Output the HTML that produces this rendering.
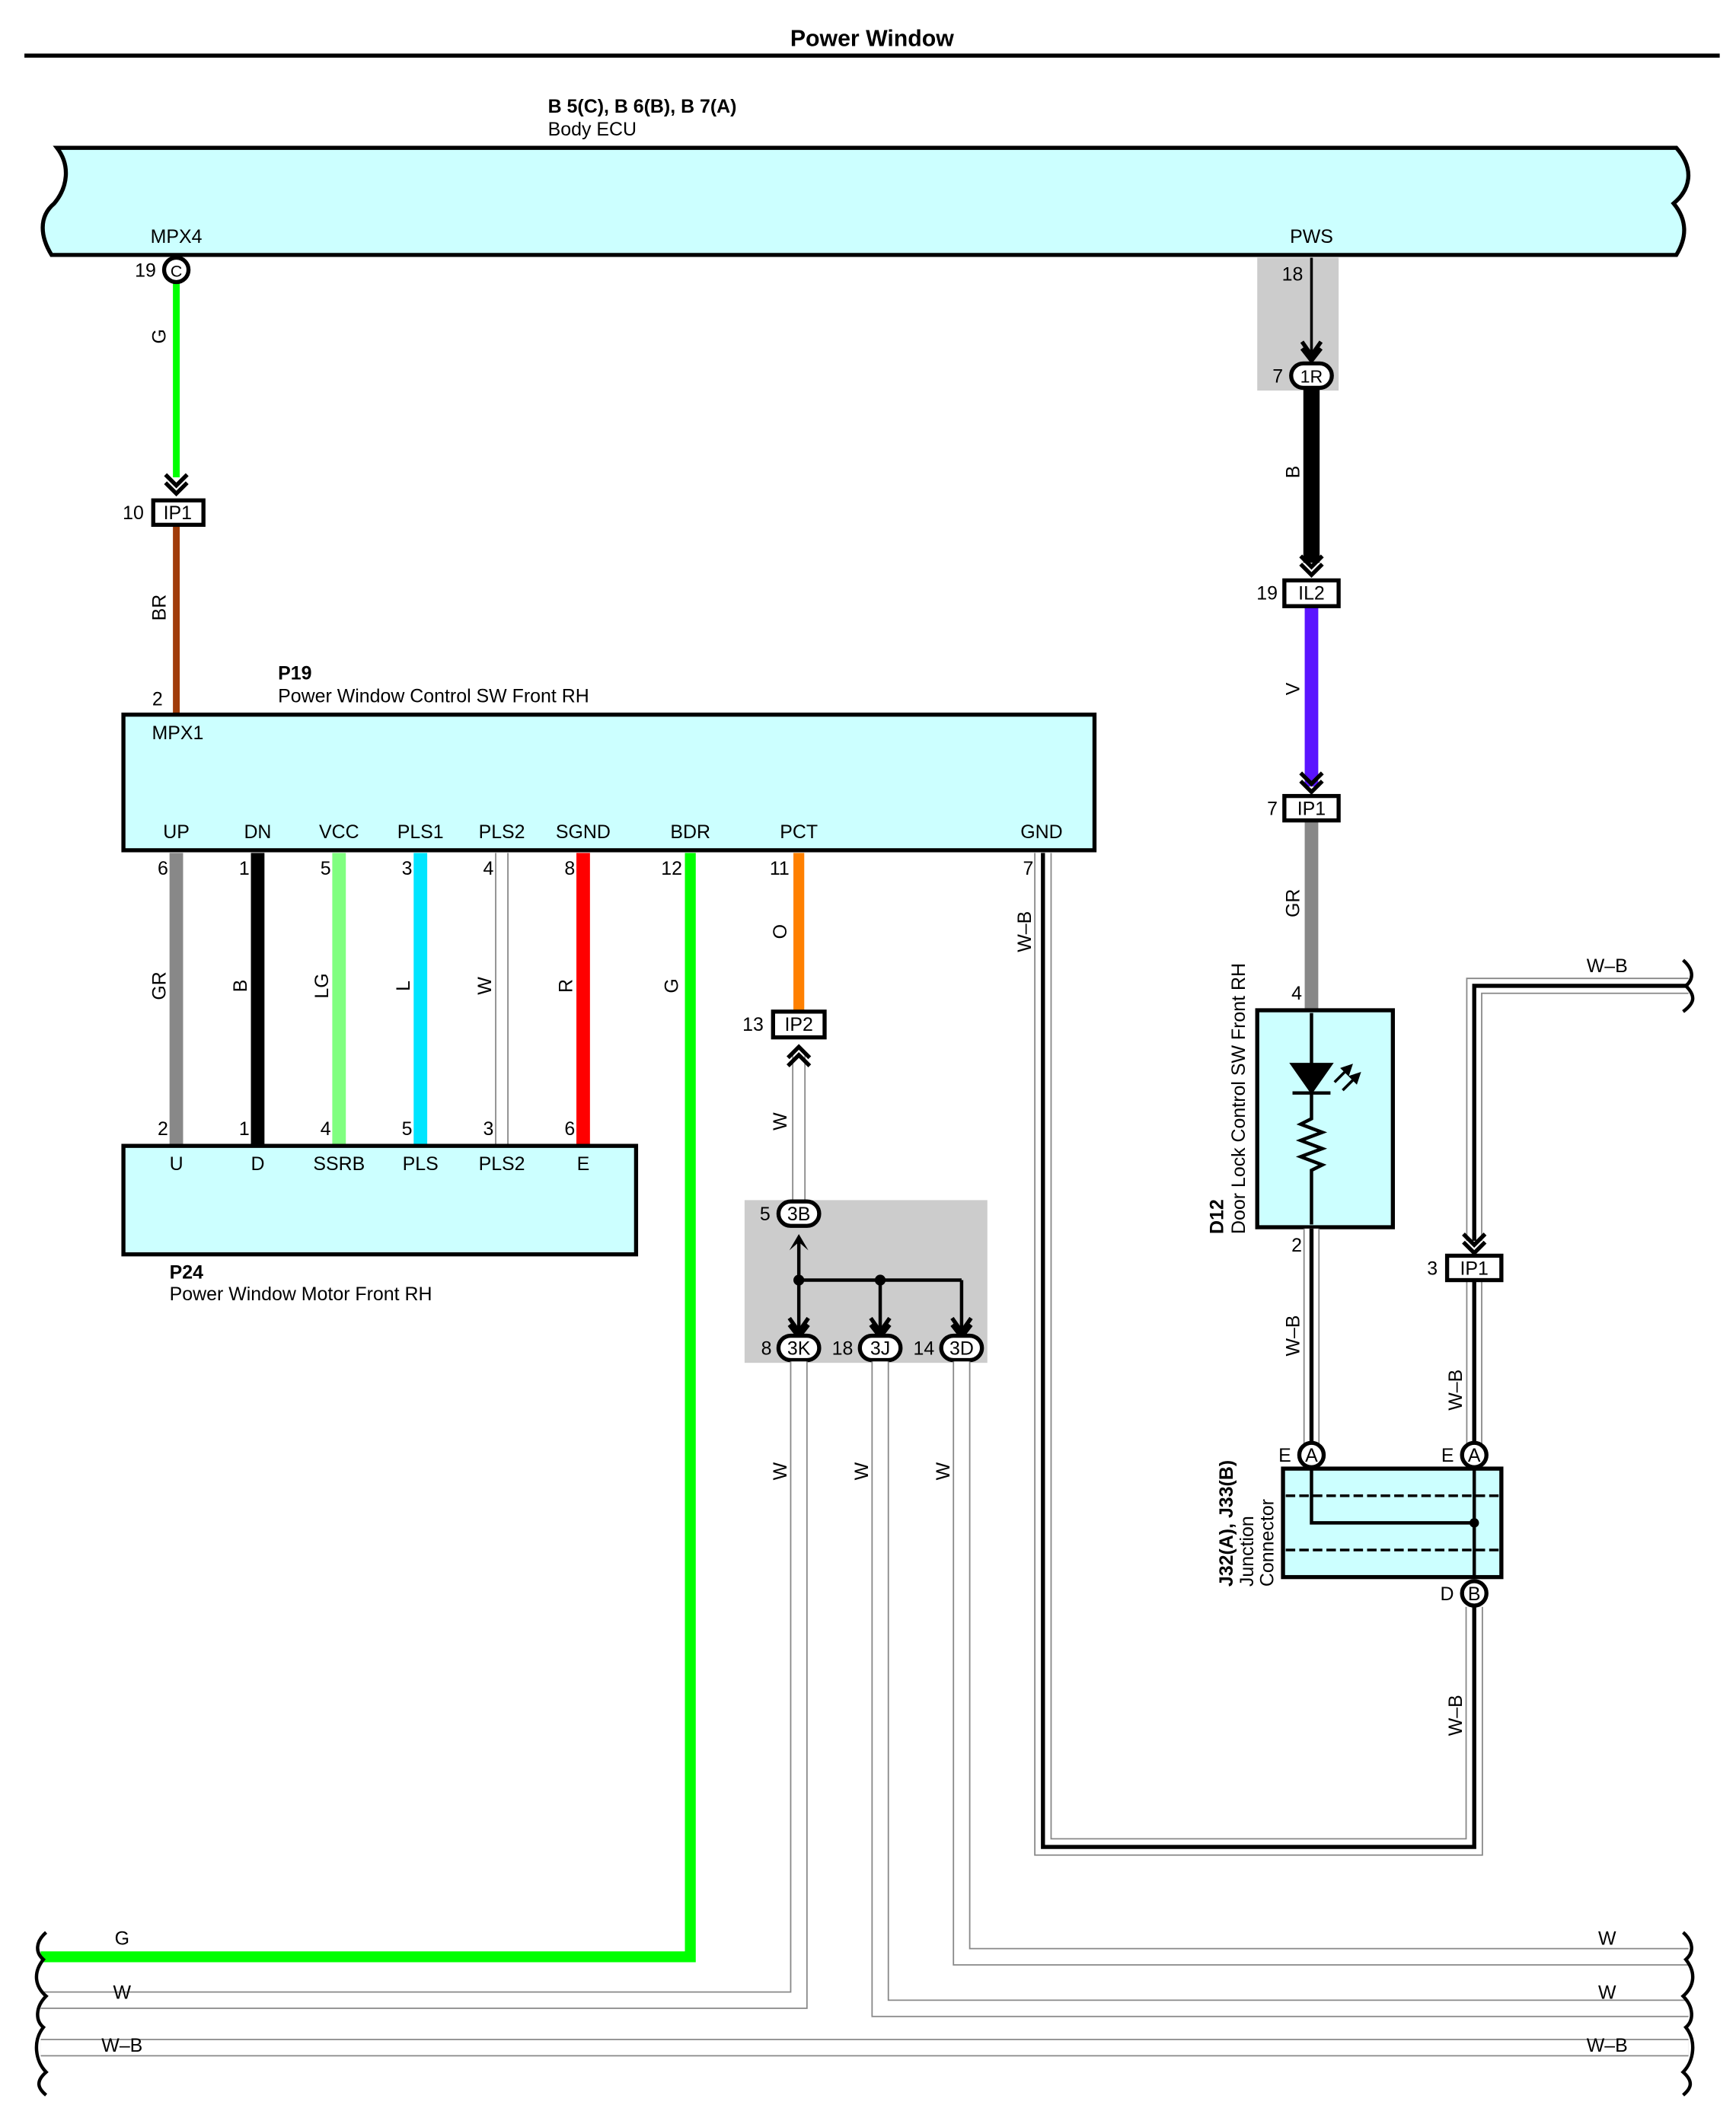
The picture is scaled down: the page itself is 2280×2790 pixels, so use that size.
<!DOCTYPE html>
<html><head><meta charset="utf-8"><style>html,body{margin:0;padding:0;background:#fff}svg{display:block}text{font-family:"Liberation Sans",sans-serif;font-size:14px;fill:#000}.b{font-weight:bold}</style></head>
<body>
<svg width="2280" height="2790" viewBox="0 0 1280 1566.3" xmlns="http://www.w3.org/2000/svg">
<defs>
<g id="chev"><path d="M-8,-10 L0,-2 L8,-10 M-8,-4 L0,4 L8,-4" fill="none" stroke="#000" stroke-width="3"/></g>
<g id="chevu"><path d="M-8,10 L0,2 L8,10 M-8,4 L0,-4 L8,4" fill="none" stroke="#000" stroke-width="3"/></g>
</defs>
<text x="643" y="34" text-anchor="middle" class="b" style="font-size:17px">Power Window</text>
<line x1="18" y1="41" x2="1268" y2="41" stroke="#000" stroke-width="3"/>
<text x="404" y="83" class="b">B 5(C), B 6(B), B 7(A)</text>
<text x="404" y="100">Body ECU</text>
<path d="M42,109 L1236,109 C1250,125 1246,140 1234,150 C1244,162 1244,175 1236,188 L38,188 C30,175 28,160 40,150 C50,138 52,122 42,109 Z" fill="#ccffff" stroke="#000" stroke-width="3"/>
<text x="130" y="179" text-anchor="middle">MPX4</text>
<text x="967" y="179" text-anchor="middle">PWS</text>
<!-- left G wire -->
<line x1="130" y1="208" x2="130" y2="352" stroke="#00ff00" stroke-width="5"/>
<circle cx="130" cy="199" r="9" fill="#fff" stroke="#000" stroke-width="3"/>
<text x="130" y="204" text-anchor="middle" style="font-size:12px">C</text>
<text x="115" y="204" text-anchor="end">19</text>
<text transform="translate(122,248) rotate(-90)" text-anchor="middle">G</text>
<use href="#chev" x="130" y="360"/>
<line x1="130" y1="386" x2="130" y2="527" stroke="#a03c0a" stroke-width="5"/>
<rect x="113" y="369" width="37" height="18" fill="#fff" stroke="#000" stroke-width="3"/>
<text x="131" y="383" text-anchor="middle">IP1</text>
<text x="106" y="383" text-anchor="end">10</text>
<text transform="translate(122,448) rotate(-90)" text-anchor="middle">BR</text>
<text x="120" y="520" text-anchor="end">2</text>
<text x="205" y="501" class="b">P19</text>
<text x="205" y="518">Power Window Control SW Front RH</text>
<!-- P19 box -->
<rect x="91" y="527" width="716" height="100" fill="#ccffff" stroke="#000" stroke-width="3"/>
<text x="112" y="545">MPX1</text>
<g text-anchor="middle">
<text x="130" y="618">UP</text><text x="190" y="618">DN</text><text x="250" y="618">VCC</text><text x="310" y="618">PLS1</text><text x="370" y="618">PLS2</text><text x="430" y="618">SGND</text><text x="509" y="618">BDR</text><text x="589" y="618">PCT</text><text x="768" y="618">GND</text>
</g>
<!-- wires between P19 and P24 -->
<line x1="130" y1="629" x2="130" y2="845" stroke="#888" stroke-width="10"/>
<line x1="190" y1="629" x2="190" y2="845" stroke="#000" stroke-width="10"/>
<line x1="250" y1="629" x2="250" y2="845" stroke="#80ff80" stroke-width="10"/>
<line x1="310" y1="629" x2="310" y2="845" stroke="#00e5ff" stroke-width="10"/>
<line x1="370" y1="629" x2="370" y2="845" stroke="#888" stroke-width="10"/>
<line x1="370" y1="629" x2="370" y2="845" stroke="#fff" stroke-width="8"/>
<line x1="430" y1="629" x2="430" y2="845" stroke="#ff0000" stroke-width="10"/>
<g text-anchor="end">
<text x="124" y="645">6</text><text x="184" y="645">1</text><text x="244" y="645">5</text><text x="304" y="645">3</text><text x="364" y="645">4</text><text x="424" y="645">8</text><text x="503" y="645">12</text><text x="582" y="645">11</text><text x="762" y="645">7</text>
<text x="124" y="837">2</text><text x="184" y="837">1</text><text x="244" y="837">4</text><text x="304" y="837">5</text><text x="364" y="837">3</text><text x="424" y="837">6</text>
</g>
<g text-anchor="middle">
<text transform="translate(122,727) rotate(-90)">GR</text>
<text transform="translate(182,727) rotate(-90)">B</text>
<text transform="translate(242,727) rotate(-90)">LG</text>
<text transform="translate(302,727) rotate(-90)">L</text>
<text transform="translate(362,727) rotate(-90)">W</text>
<text transform="translate(422,727) rotate(-90)">R</text>
<text transform="translate(500,727) rotate(-90)">G</text>
<text transform="translate(580,687) rotate(-90)">O</text>
<text transform="translate(580,827) rotate(-90)">W</text>
<text transform="translate(760,687) rotate(-90)">W–B</text>
</g>
<rect x="91" y="845" width="378" height="80" fill="#ccffff" stroke="#000" stroke-width="3"/>
<g text-anchor="middle">
<text x="130" y="863">U</text><text x="190" y="863">D</text><text x="250" y="863">SSRB</text><text x="310" y="863">PLS</text><text x="370" y="863">PLS2</text><text x="430" y="863">E</text>
</g>
<text x="125" y="943" class="b">P24</text>
<text x="125" y="959">Power Window Motor Front RH</text>
<!-- BDR green -->
<path d="M509,629 L509,1443 L30,1443" fill="none" stroke="#00ff00" stroke-width="8"/>
<!-- PCT orange -->
<line x1="589" y1="629" x2="589" y2="746" stroke="#ff8000" stroke-width="8"/>
<rect x="570" y="746" width="38" height="19" fill="#fff" stroke="#000" stroke-width="3"/>
<text x="589" y="760" text-anchor="middle">IP2</text>
<text x="563" y="760" text-anchor="end">13</text>
<line x1="589" y1="778" x2="589" y2="885" stroke="#888" stroke-width="10"/>
<line x1="589" y1="778" x2="589" y2="885" stroke="#fff" stroke-width="8"/>
<use href="#chevu" x="589" y="776"/>
<!-- junction gray box -->
<rect x="549" y="885" width="179" height="120" fill="#cccccc"/>
<path d="M589,915 L589,990 M589,944 L709,944 M649,944 L649,990 M709,944 L709,990" stroke="#000" stroke-width="2.5" fill="none"/>
<circle cx="589" cy="944" r="4"/><circle cx="649" cy="944" r="4"/>
<path d="M582,922 L589,910 L596,922 L589,916 Z" fill="#000"/>
<path d="M582,972 L589,982 L596,972 M582,977 L589,986 L596,977" stroke="#000" stroke-width="3" fill="none"/>
<path d="M642,972 L649,982 L656,972 M642,977 L649,986 L656,977" stroke="#000" stroke-width="3" fill="none"/>
<path d="M702,972 L709,982 L716,972 M702,977 L709,986 L716,977" stroke="#000" stroke-width="3" fill="none"/>
<g stroke="#000" stroke-width="3" fill="#fff">
<rect x="574" y="886" width="30" height="18" rx="9"/>
<rect x="574" y="985" width="30" height="18" rx="9"/>
<rect x="634" y="985" width="30" height="18" rx="9"/>
<rect x="694" y="985" width="30" height="18" rx="9"/>
</g>
<g text-anchor="middle" style="font-size:13px">
<text x="589" y="900">3B</text><text x="589" y="999">3K</text><text x="649" y="999">3J</text><text x="709" y="999">3D</text>
</g>
<g text-anchor="end"><text x="568" y="900">5</text><text x="569" y="999">8</text><text x="629" y="999">18</text><text x="689" y="999">14</text></g>
<!-- W wires to bottom -->
<g fill="none" stroke="#888" stroke-width="13">
<path d="M589,1004 L589,1475 L30,1475"/>
<path d="M649,1004 L649,1481 L1245,1481"/>
<path d="M709,1004 L709,1443 L1245,1443"/>
<path d="M30,1510 L1245,1510"/>
<path d="M769,629 L769,1362 L1087,1362 L1087,1185"/>
</g>
<g fill="none" stroke="#fff" stroke-width="11">
<path d="M589,1004 L589,1475 L30,1475"/>
<path d="M649,1004 L649,1481 L1245,1481"/>
<path d="M709,1004 L709,1443 L1245,1443"/>
<path d="M30,1510 L1245,1510"/>
<path d="M769,629 L769,1362 L1087,1362 L1087,1185"/>
</g>
<path d="M769,629 L769,1362 L1087,1362 L1087,1185" fill="none" stroke="#000" stroke-width="3"/>
<g text-anchor="middle">
<text transform="translate(580,1085) rotate(-90)">W</text>
<text transform="translate(640,1085) rotate(-90)">W</text>
<text transform="translate(700,1085) rotate(-90)">W</text>
</g>
<text x="90" y="1434" text-anchor="middle">G</text>
<text x="90" y="1474" text-anchor="middle">W</text>
<text x="90" y="1513" text-anchor="middle">W–B</text>
<text x="1185" y="1434" text-anchor="middle">W</text>
<text x="1185" y="1474" text-anchor="middle">W</text>
<text x="1185" y="1513" text-anchor="middle">W–B</text>
<!-- bottom squiggles -->
<path d="M34,1425 C26,1432 26,1440 32,1445 C24,1455 26,1465 34,1472 C26,1480 26,1490 32,1495 C24,1505 26,1520 34,1528 C26,1535 28,1540 34,1545" fill="none" stroke="#000" stroke-width="2.5"/>
<path d="M1241,1425 C1249,1432 1249,1440 1243,1445 C1251,1455 1249,1465 1241,1472 C1249,1480 1249,1490 1243,1495 C1251,1505 1249,1520 1241,1528 C1249,1535 1247,1540 1241,1545" fill="none" stroke="#000" stroke-width="2.5"/>
<!-- PWS section -->
<rect x="927" y="190" width="60" height="98" fill="#cccccc"/>
<text x="953" y="207" text-anchor="middle">18</text>
<line x1="967" y1="190" x2="967" y2="262" stroke="#000" stroke-width="2"/>
<path d="M960,252 L967,262 L974,252 M960,257 L967,266 L974,257" stroke="#000" stroke-width="3" fill="none"/>
<line x1="967" y1="286" x2="967" y2="415" stroke="#000" stroke-width="12"/>
<rect x="952" y="268" width="30" height="18" rx="9" fill="#fff" stroke="#000" stroke-width="3"/>
<text x="967" y="282" text-anchor="middle" style="font-size:13px">1R</text>
<text x="946" y="282" text-anchor="end">7</text>
<text transform="translate(958,348) rotate(-90)" text-anchor="middle">B</text>
<use href="#chev" x="967" y="420"/>
<line x1="967" y1="447" x2="967" y2="580" stroke="#5a14ff" stroke-width="10"/>
<rect x="947" y="428" width="40" height="19" fill="#fff" stroke="#000" stroke-width="3"/>
<text x="967" y="442" text-anchor="middle">IL2</text>
<text x="942" y="442" text-anchor="end">19</text>
<text transform="translate(958,508) rotate(-90)" text-anchor="middle">V</text>
<use href="#chev" x="967" y="580"/>
<line x1="967" y1="605" x2="967" y2="745" stroke="#888" stroke-width="10"/>
<rect x="947" y="587" width="40" height="18" fill="#fff" stroke="#000" stroke-width="3"/>
<text x="967" y="601" text-anchor="middle">IP1</text>
<text x="942" y="601" text-anchor="end">7</text>
<text transform="translate(958,666) rotate(-90)" text-anchor="middle">GR</text>
<text x="960" y="737" text-anchor="end">4</text>
<!-- D12 -->
<rect x="927" y="745" width="100" height="160" fill="#ccffff" stroke="#000" stroke-width="3"/>
<path d="M967,747 L967,785 M953,785 L981,785 L967,805 Z M953,806 L981,806 M967,806 L967,825 L959,829 L975,835 L959,841 L975,847 L959,853 L975,859 L967,863 L967,903" stroke="#000" stroke-width="2.5" fill="none"/>
<path d="M953,785 L981,785 L967,805 Z" fill="#000"/>
<path d="M984,798 L996,786 M990,804 L1002,792" stroke="#000" stroke-width="2"/>
<path d="M996,786 L990,788 L994,792 Z M1002,792 L996,794 L1000,798 Z" fill="#000" stroke="#000" stroke-width="2"/>
<text transform="translate(902,910) rotate(-90)" class="b">D12</text>
<text transform="translate(918,910) rotate(-90)">Door Lock Control SW Front RH</text>
<text x="960" y="923" text-anchor="end">2</text>
<!-- W-B wires right -->
<g fill="none" stroke="#888" stroke-width="12">
<path d="M967,906 L967,1065"/>
<path d="M1245,727 L1087,727 L1087,915"/>
<path d="M1087,943 L1087,1065"/>
</g>
<g fill="none" stroke="#fff" stroke-width="10">
<path d="M967,906 L967,1065"/>
<path d="M1245,727 L1087,727 L1087,915"/>
<path d="M1087,943 L1087,1065"/>
</g>
<g fill="none" stroke="#000" stroke-width="3">
<path d="M967,906 L967,1065"/>
<path d="M1245,727 L1087,727 L1087,915"/>
<path d="M1087,943 L1087,1065"/>
</g>
<path d="M1241,708 C1249,715 1249,722 1243,727 C1251,735 1249,740 1241,746" fill="none" stroke="#000" stroke-width="2.5"/>
<text x="1185" y="717" text-anchor="middle">W–B</text>
<use href="#chev" x="1087" y="920"/>
<rect x="1067" y="926" width="40" height="18" fill="#fff" stroke="#000" stroke-width="3"/>
<text x="1087" y="940" text-anchor="middle">IP1</text>
<text x="1060" y="940" text-anchor="end">3</text>
<text transform="translate(958,985) rotate(-90)" text-anchor="middle">W–B</text>
<text transform="translate(1078,1025) rotate(-90)" text-anchor="middle">W–B</text>
<text transform="translate(1078,1265) rotate(-90)" text-anchor="middle">W–B</text>
<!-- J32 -->
<rect x="946" y="1083" width="161" height="80" fill="#ccffff" stroke="#000" stroke-width="3"/>
<path d="M948,1103 L1105,1103 M948,1143 L1105,1143" stroke="#000" stroke-width="2" stroke-dasharray="7,3"/>
<path d="M967,1083 L967,1123 L1087,1123 M1087,1083 L1087,1163" stroke="#000" stroke-width="2.5" fill="none"/>
<circle cx="1087" cy="1123" r="3.5"/>
<g stroke="#000" stroke-width="3" fill="#fff">
<circle cx="967" cy="1073" r="9"/><circle cx="1087" cy="1073" r="9"/><circle cx="1087" cy="1175" r="9"/>
</g>
<g text-anchor="middle" style="font-size:12px"><text x="967" y="1078">A</text><text x="1087" y="1078">A</text><text x="1087" y="1180">B</text></g>
<g text-anchor="end"><text x="952" y="1078">E</text><text x="1072" y="1078">E</text><text x="1072" y="1180">D</text></g>
<text transform="translate(909,1170) rotate(-90)" class="b">J32(A), J33(B)</text>
<text transform="translate(924,1170) rotate(-90)">Junction</text>
<text transform="translate(939,1170) rotate(-90)">Connector</text>
</svg>
</body></html>
